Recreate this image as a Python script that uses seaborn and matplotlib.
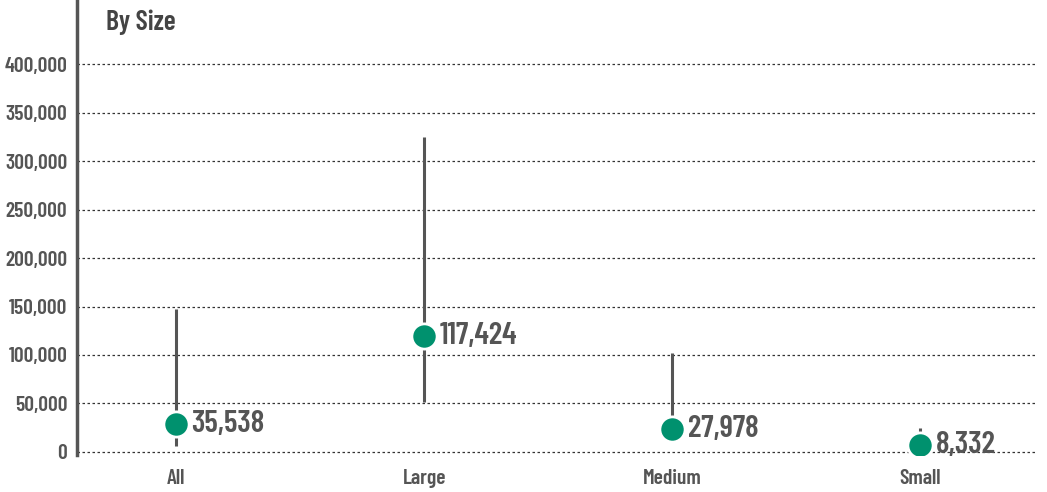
import matplotlib
matplotlib.use("Agg")
import matplotlib.pyplot as plt
import seaborn as sns
import pandas as pd
from matplotlib import font_manager
from matplotlib.ticker import FuncFormatter

categories = ["All", "Large", "Medium", "Small"]
point_values = [29000, 119500, 23800, 7300]
range_low = [6000, 52000, 20000, 3000]
range_high = [147500, 324500, 102500, 24500]
value_labels = ["35,538", "117,424", "27,978", "8,332"]
yticks = [0, 50000, 100000, 150000, 200000, 250000, 300000, 350000, 400000]

fp = font_manager.FontProperties(family=["Barlow Condensed", "DejaVu Sans"], weight=600)

sns.set_style("white")

df = pd.DataFrame({"cat": categories, "val": point_values})

fig = plt.figure(figsize=(10.47, 4.92), dpi=100)
ax = fig.add_axes([77/1047, 37/492, 960/1047, 455/492])

grey = "#555555"
ax.vlines(range(len(categories)), range_low, range_high, color=grey, lw=2.2, zorder=2)
sns.scatterplot(data=df, x="cat", y="val", ax=ax, s=330, color="#00916e",
                edgecolor="white", linewidth=2, zorder=3, legend=False)

def F(size):
    p = fp.copy()
    p.set_size(size)
    return p

for i, (v, lab) in enumerate(zip(point_values, value_labels)):
    ax.annotate(lab, (i, v), xytext=(11, 0), textcoords="offset points",
                ha="left", va="center", fontproperties=F(22.5), color=grey)

ax.set_xlim(-0.4, 3.47)
ax.set_ylim(-3100, 466000)
ax.set_yticks(yticks)
ax.yaxis.set_major_formatter(FuncFormatter(lambda v, p: f"{int(v):,}"))
ax.grid(axis="y", linestyle=(0, (2, 2)), color="#333333", lw=0.9)
ax.set_axisbelow(True)
for s in ["top", "right", "bottom"]:
    ax.spines[s].set_visible(False)
ax.spines["left"].set_color(grey)
ax.spines["left"].set_linewidth(2.5)
ax.tick_params(axis="y", length=0, labelcolor=grey, pad=7)
ax.tick_params(axis="x", length=0, labelcolor=grey, pad=10)
ax.set_xlabel("")
ax.set_ylabel("")
fig.canvas.draw()
for t in ax.get_yticklabels():
    t.set_fontproperties(F(15.5))
for t in ax.get_xticklabels():
    t.set_fontproperties(F(15.5))
ax.text(106/1047, 1 - 22/492, "By Size", transform=fig.transFigure,
        fontproperties=F(20), color="#444444", va="center", ha="left")

fig.savefig("out.png", dpi=100)
